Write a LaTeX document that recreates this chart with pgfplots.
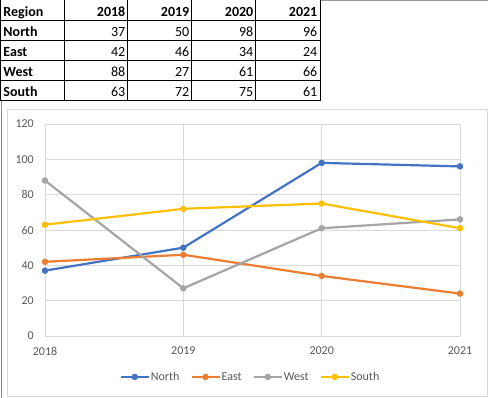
\documentclass[border=0pt]{standalone}
\usepackage{fontspec}
\setmainfont{Carlito}
\usepackage{pgfplots}
\pgfplotsset{compat=1.18}
\definecolor{cN}{HTML}{4472C4}
\definecolor{cE}{HTML}{ED7D31}
\definecolor{cW}{HTML}{A5A5A5}
\definecolor{cS}{HTML}{FFC000}
\definecolor{gridc}{HTML}{D9D9D9}
\definecolor{labc}{HTML}{595959}
\begin{document}
\begin{tikzpicture}
\fill[white] (0,0) rectangle (488bp,-398bp);
\path[use as bounding box] (0,0) rectangle (488bp,-398bp);
% sheet edges
\draw[color=black!40, line width=1bp] (320bp,-0.5bp) -- (488bp,-0.5bp);
\draw[color=black!45, line width=1bp] (1.5bp,-100bp) -- (1.5bp,-398bp);
% table grid
\foreach \yy in {20,40,60,80,100} {\draw[black, line width=1bp] (0bp,-\yy bp) -- (320.7bp,-\yy bp);}
\foreach \xx in {0.5,64.3,127.7,191.7,255.7,320.2} {\draw[black, line width=1bp] (\xx bp,0bp) -- (\xx bp,-100bp);}
% table text
\begingroup
\fontsize{14bp}{16bp}\selectfont
\node[anchor=base west, inner sep=0pt] at (3.3bp,-16bp) {\textbf{Region}};
\foreach \v [count=\i] in {2018,2019,2020,2021} {
  \node[anchor=base east, inner sep=0pt] at ({(64*\i+61.5)*1bp},-16bp) {\textbf{\v}};
}
\foreach \r/\n/\a/\b/\c/\d in {1/North/37/50/98/96,2/East/42/46/34/24,3/West/88/27/61/66,4/South/63/72/75/61} {
  \node[anchor=base west, inner sep=0pt] at (3.3bp,{-(20*\r+16)*1bp}) {\textbf{\n}};
  \node[anchor=base east, inner sep=0pt] at (125.5bp,{-(20*\r+16)*1bp}) {\a};
  \node[anchor=base east, inner sep=0pt] at (189.5bp,{-(20*\r+16)*1bp}) {\b};
  \node[anchor=base east, inner sep=0pt] at (253.5bp,{-(20*\r+16)*1bp}) {\c};
  \node[anchor=base east, inner sep=0pt] at (317.5bp,{-(20*\r+16)*1bp}) {\d};
}
\endgroup
% chart area border
\draw[color=gridc, line width=0.75bp] (7.3bp,-109.5bp) rectangle (487bp,-396.5bp);
\begin{axis}[
  at={(45bp,-336bp)}, anchor=south west,
  scale only axis, width=415bp, height=212bp,
  xmin=0, xmax=3, ymin=0, ymax=120,
  enlargelimits=false,
  xtick={0,1,2,3}, xticklabels={2018,2019,2020,2021},
  ytick={0,20,40,60,80,100,120},
  grid=major, grid style={draw=gridc, line width=0.75bp},
  axis line style={draw=none},
  major tick length=0pt,
  tick label style={font=\fontsize{12bp}{14bp}\selectfont, text=labc},
  xticklabel style={anchor=north, inner sep=0pt, yshift=-10.7bp},
  yticklabel style={anchor=east, inner sep=0pt, xshift=-11bp},
  /pgf/number format/assume math mode=true,
  clip=false,
  every axis plot/.append style={line width=2.2bp, mark=*, mark size=2.9bp, mark options={line width=0.6bp}},
  legend columns=-1,
  legend style={at={(axis description cs:0.494,-0.193)}, anchor=center, draw=none, fill=none,
    font=\fontsize{12bp}{14bp}\selectfont, text=labc,
    nodes={inner sep=1bp},
    /tikz/every even column/.append style={column sep=10bp}},
  legend image code/.code={\draw[mark repeat=2,mark phase=2,#1] plot coordinates {(0bp,0bp) (14bp,0bp) (28bp,0bp)};},
]
\addplot[color=cN] coordinates {(0,37) (1,50) (2,98) (3,96)};
\addlegendentry{North}
\addplot[color=cE] coordinates {(0,42) (1,46) (2,34) (3,24)};
\addlegendentry{East}
\addplot[color=cW] coordinates {(0,88) (1,27) (2,61) (3,66)};
\addlegendentry{West}
\addplot[color=cS] coordinates {(0,63) (1,72) (2,75) (3,61)};
\addlegendentry{South}
\end{axis}
\end{tikzpicture}
\end{document}
